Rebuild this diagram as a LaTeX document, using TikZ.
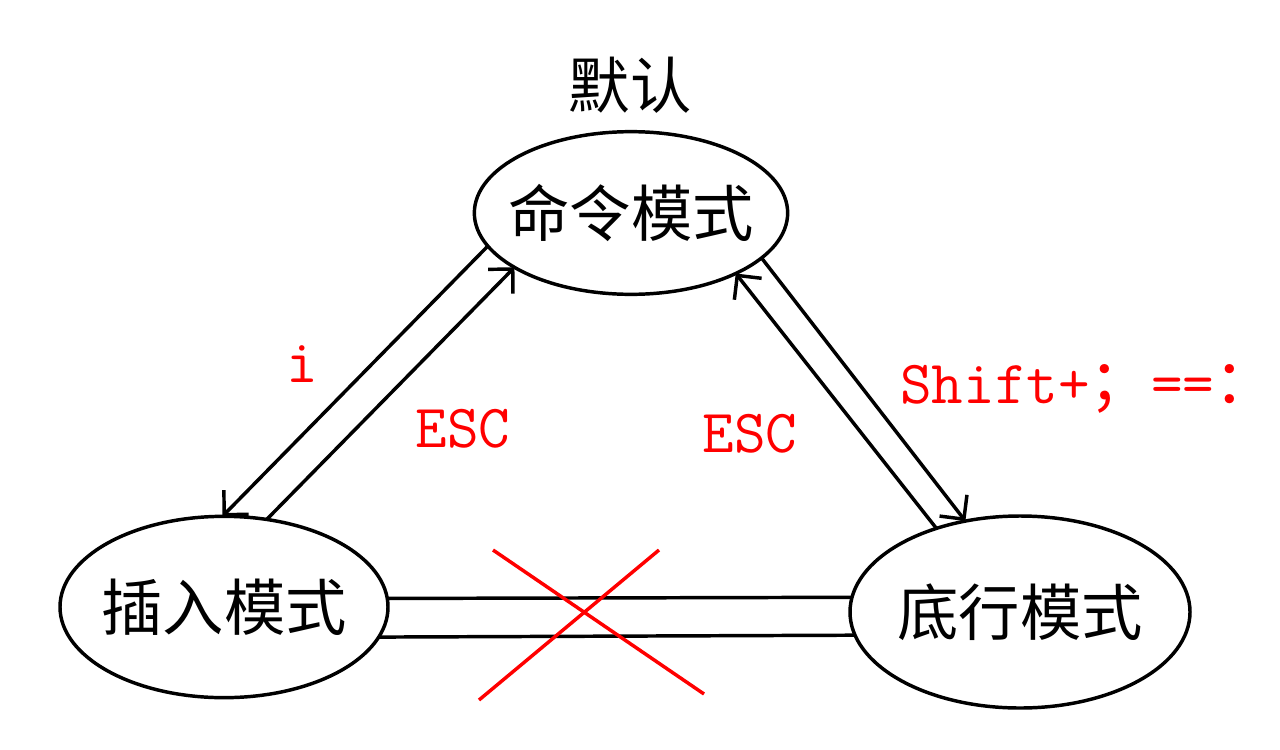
\documentclass[tikz,border=0pt]{standalone}
\usepackage{fontspec}
\newfontfamily\cjk{Noto Sans CJK SC}
\usetikzlibrary{shapes.geometric,arrows.meta}

\begin{document}
\begin{tikzpicture}[x=0.75pt,y=0.75pt,yscale=-1,xscale=1,
  >={Straight Barb[length=13pt,width=26pt]},
  mode/.style={draw=black, line width=2.6pt, ellipse, inner sep=0pt, outer sep=0pt},
  modetext/.style={font=\fontsize{46}{50}\selectfont\cjk, inner sep=0pt},
  trans/.style={draw=black, line width=2.6pt},
  key/.style={text=red, font=\fontsize{46}{50}\selectfont\ttfamily, inner sep=0pt, anchor=base},
  cross/.style={draw=red, line width=2.6pt}
]
\useasboundingbox (0,0) rectangle (1280,749);

%Ellipse [command mode]
\node [mode, minimum width=235pt, minimum height=122pt, label={[modetext]center:命令模式}] (cmd) at (631,213) {};
%Ellipse [insert mode]
\node [mode, minimum width=246pt, minimum height=136pt, label={[modetext]center:插入模式}] (ins) at (224,607) {};
%Ellipse [last line mode]
\node [mode, minimum width=255pt, minimum height=144pt, label={[modetext]center:底行模式}] (low) at (1020,612) {};

% Text Node
\node [modetext] (dflt) at (630,85) {默认};

%Straight Lines [cmd <-> ins]
\draw [trans, ->] (cmd.193.7) -- (ins.91);
\draw [trans, ->] (ins.64.7) -- (cmd.205);
%Straight Lines [cmd <-> low]
\draw [trans, ->] (cmd.341) -- (low.121.2);
\draw [trans, ->] (low.135.7) -- (cmd.330);
%Straight Lines [ins -- low]
\draw [trans] (ins.3) -- (low.175.3);
\draw [trans] (ins.349) -- (low.188.8);

%Straight Lines [red cross]
\draw [cross] (493,550) -- (704,694);
\draw [cross] (659,550) -- (479,700);

% Text Node
\node [key] (ki) at (302,382) {i};
% Text Node
\node [key] (kescl) at (463,447) {ESC};
% Text Node
\node [key] (kescr) at (750,452) {ESC};
% Text Node
\node [key, anchor=base west] (kshift) at (900,403) {Shift+{\cjk ；}=={\cjk ：}};

\end{tikzpicture}
\end{document}
